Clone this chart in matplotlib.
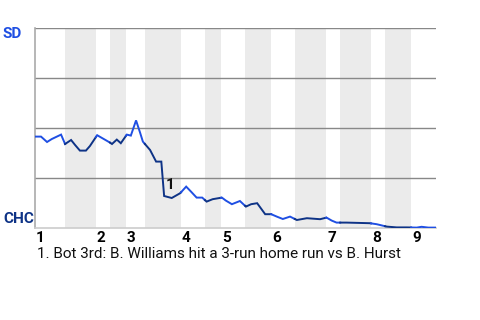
import numpy as np
import matplotlib
matplotlib.use("Agg")
import matplotlib.pyplot as plt
from matplotlib import transforms

plt.rcParams['font.family'] = ['Roboto', 'DejaVu Sans']

# game progress (0-100) and SD win probability
progress = [0, 1.5, 3.0, 4.2, 6.5, 7.5, 9.0, 10.0, 11.2, 12.7, 13.7, 15.5, 18.7, 19.2, 20.4,
            21.4, 22.9, 23.9, 25.2, 26.2, 26.9, 28.7, 30.2, 31.5, 32.2, 34.1, 36.2, 37.7,
            38.9, 40.3, 41.7, 42.8, 44.3, 46.6, 47.6, 49.1, 51.1, 52.6, 53.9, 55.4, 57.4,
            58.9, 60.3, 61.8, 63.6, 65.3, 67.8, 71.1, 72.7, 74.0, 75.2, 77.7, 83.5, 85.2,
            87.7, 90.2, 92.7, 95.2, 96.4, 98.1, 100]
sd_wp = [0.457, 0.457, 0.43, 0.445, 0.467, 0.42, 0.44, 0.415, 0.387, 0.387, 0.41, 0.464,
         0.427, 0.42, 0.442, 0.424, 0.467, 0.462, 0.538, 0.477, 0.432, 0.39, 0.332, 0.332,
         0.16, 0.15, 0.174, 0.207, 0.182, 0.152, 0.152, 0.132, 0.144, 0.152, 0.137, 0.119,
         0.135, 0.107, 0.119, 0.124, 0.069, 0.069, 0.057, 0.045, 0.057, 0.04, 0.049, 0.044,
         0.052, 0.037, 0.027, 0.027, 0.024, 0.019, 0.007, 0.003, 0.003, 0.002, 0.006,
         0.002, 0.002]

# half-inning boundaries (progress units)
half_starts = [0, 7.5, 15.2, 18.7, 22.7, 27.4, 36.4, 42.4, 46.4, 52.4, 58.9, 64.8,
               72.6, 76.1, 83.8, 87.3, 93.8]
game_end = 100
inning_labels = ['1', '2', '3', '4', '5', '6', '7', '8', '9']

events = [("1", 32.6, 0.215)]
footnote = "1. Bot 3rd: B. Williams hit a 3-run home run vs B. Hurst"

SD_COLOR = '#1f4fe3'
CHC_COLOR = '#0e3386'
FS = 11

fig = plt.figure(figsize=(4.8, 3.2), dpi=100)
ax = fig.add_axes([35/480, 92/320, 401/480, 200/320])

bounds = half_starts + [game_end]
x = np.array(progress)
y = np.array(sd_wp)
for i in range(len(half_starts)):
    a, b = bounds[i], bounds[i+1]
    if i % 2 == 1:
        ax.axvspan(a, b, color='#ebebeb', lw=0, zorder=0)
    inside = (x > a) & (x < b)
    xs = np.concatenate([[a], x[inside], [b]])
    ys = np.interp(xs, x, y)
    ax.plot(xs, ys, color=SD_COLOR if i % 2 == 0 else CHC_COLOR, lw=1.4,
            solid_joinstyle='miter', zorder=3)

for g in [0.25, 0.5, 0.75, 1.0]:
    ax.axhline(g, color='#888888', lw=1.0, zorder=1)

ax.set_xlim(0, game_end)
ax.set_ylim(0, 1)
for s in ['top', 'right']:
    ax.spines[s].set_visible(False)
ax.spines['left'].set_color('#aaaaaa')
ax.spines['left'].set_linewidth(1.2)
ax.spines['bottom'].set_color('#cccccc')
ax.spines['bottom'].set_linewidth(1.2)
ax.set_yticks([])
ax.set_xticks(half_starts[0::2])
ax.set_xticklabels(inning_labels, fontsize=FS, fontweight='bold', ha='left')
ax.tick_params(axis='x', length=0, pad=2)
for lbl in ax.get_xticklabels():
    lbl.set_transform(lbl.get_transform() + transforms.ScaledTranslation(1/100, 0, fig.dpi_scale_trans))

for t, ex, ey in events:
    ax.text(ex, ey, t, fontsize=FS, fontweight='bold', color='#111111', ha='left', va='center', zorder=4)

ax.text(-0.08, 0.97, 'SD', transform=ax.transAxes, fontsize=FS, fontweight='bold',
        color=SD_COLOR, ha='left', va='center')
ax.text(-0.08, 0.045, 'CHC', transform=ax.transAxes, fontsize=FS, fontweight='bold',
        color=CHC_COLOR, ha='left', va='center')

fig.text(37/480, (320-258)/320, footnote, fontsize=FS, color='#111111', ha='left', va='baseline')

fig.savefig('out.png', dpi=100)
